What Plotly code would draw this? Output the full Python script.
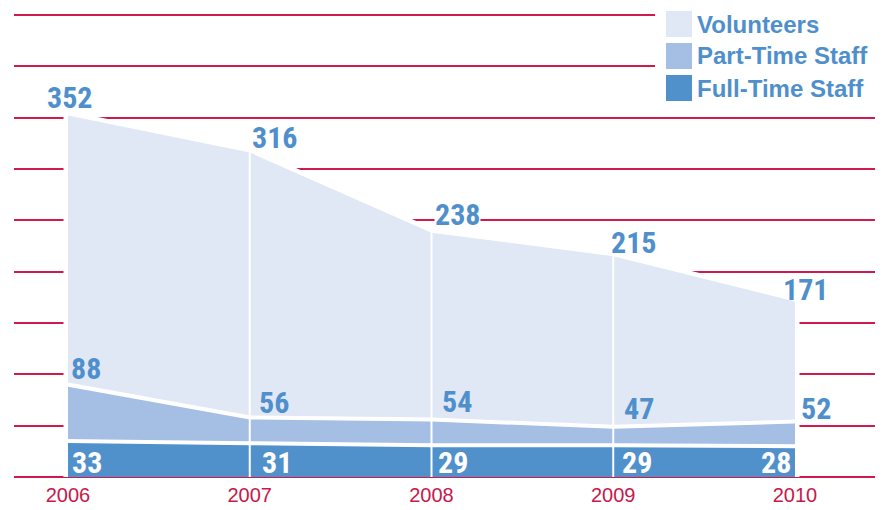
import plotly.graph_objects as go

# ---------------- data ----------------
years = [2006, 2007, 2008, 2009, 2010]
year_labels = ["2006", "2007", "2008", "2009", "2010"]
volunteers = [352, 316, 238, 215, 171]
part_time = [88, 56, 54, 47, 52]
full_time = [33, 31, 29, 29, 28]
series_names = ["Volunteers", "Part-Time Staff", "Full-Time Staff"]

# ---------------- styles ----------------
W, H = 893, 510
ML, MR, MT, MB = 14, 18, 13, 31
PW, PH = W - ML - MR, H - MT - MB
C_VOL = "#e0e8f5"
C_PT = "#a5bee3"
C_FT = "#5091cc"
C_TXT = "#4f8fcc"
C_GRID = "#cf1a4d"
C_YEAR = "#c8174a"
LABEL_FONT = "Roboto Condensed, Liberation Sans, Arial, sans-serif"
LABEL_SIZE = 30

X_RANGE = [2005.7029, 2010.4402]
Y_RANGE = [-1.948, 451.948]

# label offsets (px): (xanchor, dx, dy)
vol_off = [("center", 1.5, 18.6), ("left", 1, 15.1), ("left", 2, 17.7), ("left", -3, 13.8), ("left", -13, 11.9)]
vol_bg = [None, None, "white", None, None]
pt_off = [("left", 1, 17.7), ("left", 7, 17.5), ("left", 8.7, 20.1), ("left", 9, 20.7), ("left", 4, 15.6)]
ft_off = [("left", 2, 15), ("left", 10, 15), ("left", 4, 15), ("left", 7, 15), ("right", -2.3, 15)]

fig = go.Figure()


def area(values, color, outline_w):
    xs = [years[0]] + years + [years[-1]]
    ys = [0] + values + [0]
    # white outline underneath
    fig.add_trace(go.Scatter(x=xs, y=ys, mode="lines",
                             line=dict(color="white", width=outline_w),
                             hoverinfo="skip", showlegend=False))
    fig.add_trace(go.Scatter(x=xs, y=ys, mode="lines", fill="tozeroy",
                             fillcolor=color, line=dict(width=0, color=color),
                             hoverinfo="skip", showlegend=False))


area(volunteers, C_VOL, 9)
area(part_time, C_PT, 8)
area(full_time, C_FT, 8)

# white vertical separators at inner years
for i in range(1, len(years) - 1):
    fig.add_trace(go.Scatter(x=[years[i], years[i]], y=[0, volunteers[i]], mode="lines",
                             line=dict(color="white", width=2),
                             hoverinfo="skip", showlegend=False))

annotations = []
for i, yr in enumerate(years):
    xa, dx, dy = vol_off[i]
    ann = dict(x=yr, y=volunteers[i], text=str(volunteers[i]), showarrow=False,
               xanchor=xa, yanchor="middle", xshift=dx, yshift=dy, borderpad=0,
               font=dict(family=LABEL_FONT, size=LABEL_SIZE, color=C_TXT, weight="bold"))
    if vol_bg[i]:
        ann["bgcolor"] = vol_bg[i]
    annotations.append(ann)
    xa, dx, dy = pt_off[i]
    annotations.append(dict(x=yr, y=part_time[i], text=str(part_time[i]), showarrow=False,
                            xanchor=xa, yanchor="middle", xshift=dx, yshift=dy,
                            font=dict(family=LABEL_FONT, size=LABEL_SIZE, color=C_TXT, weight="bold")))
    xa, dx, dy = ft_off[i]
    annotations.append(dict(x=yr, y=0, text=str(full_time[i]), showarrow=False,
                            xanchor=xa, yanchor="middle", xshift=dx, yshift=dy,
                            font=dict(family=LABEL_FONT, size=LABEL_SIZE, color="white", weight="bold")))


def px2x(px):
    return (px - ML) / PW


def py2y(py):
    return (H - MB - py) / PH


shapes = [dict(type="rect", xref="paper", yref="paper", layer="above",
               x0=px2x(655), x1=px2x(893), y0=py2y(105), y1=py2y(0),
               fillcolor="white", line=dict(width=0))]
sw_colors = [C_VOL, C_PT, C_FT]
for k, name in enumerate(series_names):
    top = 11 + 32 * k
    shapes.append(dict(type="rect", xref="paper", yref="paper", layer="above",
                       x0=px2x(666), x1=px2x(692), y0=py2y(top + 26), y1=py2y(top),
                       fillcolor=sw_colors[k], line=dict(width=0)))
    annotations.append(dict(x=px2x(695), y=py2y(top + 13), xref="paper", yref="paper",
                            text=name, showarrow=False, xanchor="left", yanchor="middle",
                            font=dict(family="Liberation Sans, Arial, sans-serif", size=24,
                                      color=C_TXT, weight="bold")))

fig.update_layout(
    width=W, height=H,
    margin=dict(l=ML, r=MR, t=MT, b=MB, pad=0, autoexpand=False),
    paper_bgcolor="white", plot_bgcolor="white",
    xaxis=dict(range=X_RANGE, tickvals=years, ticktext=year_labels, showgrid=False,
               zeroline=False, showline=False, ticks="", ticklabelstandoff=2, automargin=False,
               tickfont=dict(family="Liberation Sans, Arial, sans-serif", size=20, color=C_YEAR)),
    yaxis=dict(range=Y_RANGE, dtick=50, tick0=0, showgrid=True, gridcolor=C_GRID, gridwidth=1.5,
               zeroline=False, showline=False, showticklabels=False, ticks="", automargin=False),
    annotations=annotations,
    shapes=shapes,
    showlegend=False,
)

fig.write_html("out.html", config={"displayModeBar": False},
               post_script="document.body.style.margin='0';document.body.style.overflow='hidden';")
